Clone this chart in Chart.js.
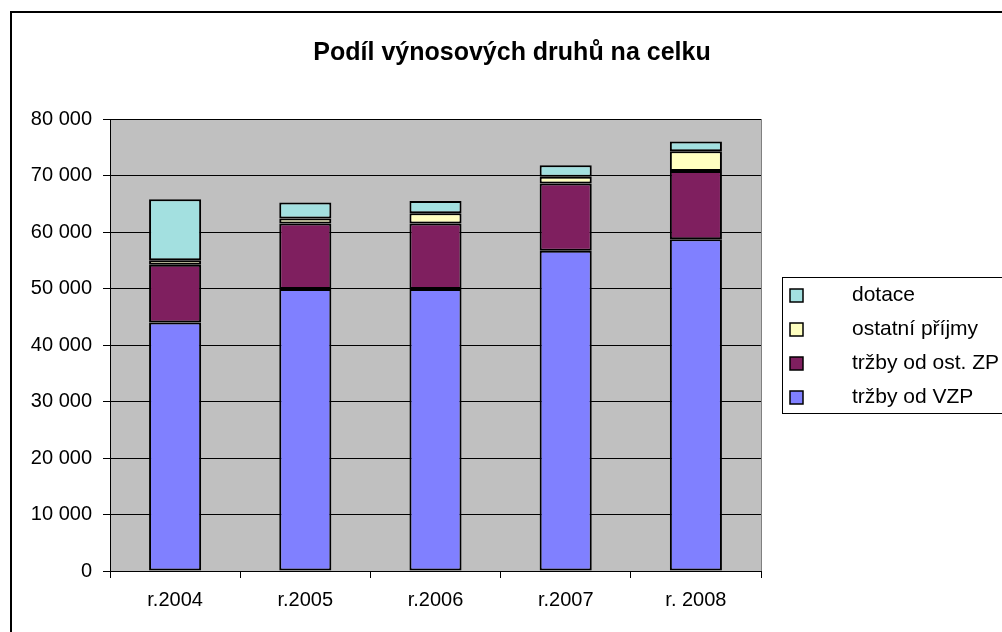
<!DOCTYPE html>
<html>
<head>
<meta charset="utf-8">
<script src="https://cdn.jsdelivr.net/npm/chart.js@4.4.1/dist/chart.umd.min.js"></script>
<style>
html,body{margin:0;padding:0;background:#fff;}
canvas{display:block;}
</style>
</head>
<body>
<canvas id="c" width="1002" height="632"></canvas>
<script>
const chartTitle = 'Podíl výnosových druhů na celku';
const categories = ['r.2004', 'r.2005', 'r.2006', 'r.2007', 'r. 2008'];
const seriesNames = ['tržby od VZP', 'tržby od ost. ZP', 'ostatní příjmy', 'dotace'];
const vzp      = [44000, 49900, 49900, 56700, 58700];
const ostZP    = [10200, 11600, 11600, 11900, 12100];
const ostatni  = [800,   900,   1800,  1200,  3500];
const dotace   = [10800, 2800,  2200,  2000,  1700];
const seriesColors = ['#8080FF', '#7F1F5F', '#FFFFC0', '#A3E0E0'];

const FONT = "'Liberation Sans', Arial, sans-serif";

const decor = {
  id: 'decor',
  beforeDraw(chart) {
    const ctx = chart.ctx;
    const a = chart.chartArea;
    ctx.save();
    ctx.fillStyle = '#fff';
    ctx.fillRect(0, 0, chart.width, chart.height);
    ctx.strokeStyle = '#000';
    ctx.lineWidth = 2;
    ctx.strokeRect(11, 12, 1200, 1200);
    ctx.fillStyle = '#C0C0C0';
    ctx.fillRect(a.left, a.top, a.right - a.left, a.bottom - a.top);
    ctx.strokeStyle = '#808080';
    ctx.lineWidth = 1;
    ctx.strokeRect(a.left + 0.5, a.top + 0.5, a.right - a.left, a.bottom - a.top);
    ctx.fillStyle = '#000';
    ctx.font = 'bold 25px ' + FONT;
    ctx.textAlign = 'center';
    ctx.textBaseline = 'alphabetic';
    ctx.fillText(chartTitle, 512, 60);
    ctx.restore();
  },
  afterDraw(chart) {
    const ctx = chart.ctx;
    ctx.save();
    ctx.strokeStyle = '#000';
    ctx.lineWidth = 1;
    ctx.strokeRect(782.5, 277.5, 400, 136);
    ctx.font = '21px ' + FONT;
    ctx.textBaseline = 'middle';
    ctx.textAlign = 'left';
    const ds = chart.data.datasets;
    for (let i = 0; i < ds.length; i++) {
      const d = ds[ds.length - 1 - i];
      const cy = 295 + i * 34;
      ctx.fillStyle = d.backgroundColor;
      ctx.fillRect(790, cy - 6, 13, 13);
      ctx.strokeStyle = '#000';
      ctx.lineWidth = 1.5;
      ctx.strokeRect(790, cy - 6, 13, 13);
      ctx.fillStyle = '#000';
      ctx.fillText(d.label, 852, cy);
    }
    ctx.restore();
  }
};

const datasets = [vzp, ostZP, ostatni, dotace].map((arr, i) => ({
  label: seriesNames[i],
  data: arr,
  backgroundColor: seriesColors[i],
  borderColor: '#000',
  borderWidth: 2,
  borderSkipped: false,
  barPercentage: 0.4,
  categoryPercentage: 1.0
}));

new Chart(document.getElementById('c'), {
  type: 'bar',
  data: { labels: categories, datasets },
  options: {
    responsive: false,
    animation: false,
    layout: { padding: { left: 10, right: 241, top: 119, bottom: 0 } },
    plugins: { legend: { display: false }, title: { display: false }, tooltip: { enabled: false } },
    scales: {
      x: {
        stacked: true,
        afterFit(s) { s.height = 61; },
        offset: true,
        grid: { display: true, drawOnChartArea: false, drawTicks: true, tickLength: 7, color: '#000', offset: true },
        border: { display: true, color: '#000', width: 1 },
        ticks: { color: '#000', font: { family: FONT, size: 20 }, padding: 10, maxRotation: 0 }
      },
      y: {
        stacked: true,
        min: 0,
        max: 80000,
        afterFit(s) { s.width = 100; },
        grid: { color: '#000', lineWidth: 1, drawTicks: true, tickLength: 7 },
        border: { display: true, color: '#000', width: 1 },
        ticks: {
          stepSize: 10000,
          color: '#000',
          padding: 11,
          font: { family: FONT, size: 20 },
          callback: v => v === 0 ? '0' : String(v).replace(/\B(?=(\d{3})+(?!\d))/g, ' ')
        }
      }
    }
  },
  plugins: [decor]
});
</script>
</body>
</html>
